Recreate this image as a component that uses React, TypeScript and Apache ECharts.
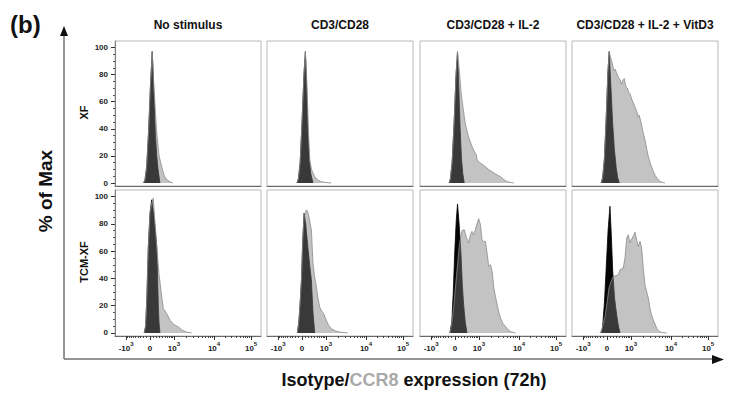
import React, { useEffect, useRef } from 'react';
import * as echarts from 'echarts';

const FONT = "'Liberation Sans', Arial, Helvetica, sans-serif";

const COLUMNS = ['No stimulus', 'CD3/CD28', 'CD3/CD28 + IL-2', 'CD3/CD28 + IL-2 + VitD3'];
const ROWS = ['XF', 'TCM-XF'];
const Y_TICKS = [0, 20, 40, 60, 80, 100];
const Y_MINOR = [5, 10, 15, 25, 30, 35, 45, 50, 55, 65, 70, 75, 85, 90, 95];
const X_TICK_VALUES = [-1000, 0, 1000, 10000, 100000];
const X_TICK_LABELS = ['-10|3', '0', '10|3', '10|4', '10|5'];
const X_MINOR_VALUES = [
  -900, -800, -700, -600, -500, -400, -300, -200, -100,
  100, 200, 300, 400, 500, 600, 700, 800, 900,
  2000, 3000, 4000, 5000, 6000, 7000, 8000, 9000,
  20000, 30000, 40000, 50000, 60000, 70000, 80000, 90000,
];

// Histograms in display (transformed) units 0..100, y = % of Max
// Row XF
const NS_XF_ISO = [[19.5, 0], [20.5, 2], [21.7, 12], [23, 38], [24.3, 72], [25.5, 97], [26.5, 70], [27.6, 37], [28.6, 20], [29.5, 10], [30.8, 0]];
const NS_XF_CCR8 = [[19.5, 0], [20.5, 2], [21.7, 12], [23, 38], [24.3, 72], [25.5, 97], [26.6, 72], [28.6, 37], [30.2, 20], [32, 12], [33.5, 6], [35, 3], [37.5, 1], [39.7, 0]];
const CD_XF_ISO = [[20.5, 0], [21.5, 3], [22.7, 15], [24, 45], [25.3, 80], [26.3, 97], [27.2, 68], [28.1, 35], [29, 17], [30, 7], [31.5, 0]];
const CD_XF_CCR8 = [[20.5, 0], [21.5, 3], [22.7, 15], [24, 45], [25.3, 80], [26.3, 97], [27.4, 72], [28.4, 38], [29.3, 17], [30.5, 10], [32.7, 4.6], [35, 2], [37.2, 1], [40, 0.4], [44, 0]];
const IL2_XF_ISO = [[20, 0], [20.8, 3], [22, 15], [23.4, 45], [24.7, 80], [25.7, 96.8], [26.6, 70], [27.5, 40], [28.4, 18], [29.3, 7], [30.3, 0]];
const IL2_XF_CCR8 = [[20, 0], [20.8, 3], [22, 15], [23.4, 45], [24.7, 80], [25.7, 96.8], [27.1, 80.8], [28.2, 66], [29.4, 56], [31, 44], [32.5, 37], [34, 31.7], [36, 26], [37.9, 21.9], [38.6, 21], [39.1, 17], [41, 15], [44.8, 12], [47, 10], [49.4, 8.3], [52, 6.5], [55.2, 4.6], [57.5, 2.5], [59.8, 1], [62, 0.4], [64.3, 0]];
const VD_XF_ISO = [[20, 0], [21, 4], [22.2, 18], [23.5, 50], [24.6, 82], [25.5, 97], [26.6, 72], [27.8, 45], [29, 25], [30.3, 11], [31.3, 4], [32.4, 0]];
const VD_XF_CCR8 = [[20, 0], [21, 4], [22.2, 18], [23.5, 50], [24.6, 82], [25.5, 97], [26.3, 93], [27.2, 90], [28, 86], [28.8, 83], [29.6, 84], [30.6, 81], [31.8, 78], [32.9, 76], [34, 73], [35, 76], [35.8, 77], [36.5, 73], [37, 71], [38, 70], [38.8, 67], [39.7, 66], [40.9, 62], [42, 59], [43.2, 56], [44.3, 53], [45.4, 49], [46, 50], [47, 46], [48, 41], [48.8, 37], [50, 31.7], [51.2, 25], [52.3, 19.4], [53.8, 14], [55.3, 9.6], [57, 5.5], [59.1, 2.2], [61, 0.8], [63.7, 0]];
// Row TCM-XF
const NS_TCM_ISO = [[20, 0], [21, 5], [21.8, 25], [22.8, 63], [24, 88], [25.1, 97.6], [26.2, 90], [27.4, 78], [28.6, 63], [29.2, 40], [29.7, 19], [30.2, 7], [30.8, 0]];
const NS_TCM_CCR8 = [[20, 0], [21, 5], [21.8, 25], [22.8, 63], [24, 88], [25.3, 96], [26.2, 98.8], [26.9, 88], [28.6, 63], [30.1, 43.7], [32, 26.5], [33.1, 18], [35.4, 14.3], [37.7, 9.3], [40, 6.5], [43.4, 4.4], [46, 2], [49.1, 0.7], [52.5, 0]];
const CD_TCM_ISO = [[20.8, 0], [21.8, 8], [22.7, 22], [23.6, 38.8], [24.5, 68], [25.4, 87.8], [26.5, 80], [27.8, 65], [29.2, 50], [30.4, 38.8], [31.5, 15], [32.7, 0]];
const CD_TCM_CCR8 = [[20.8, 0], [21.8, 8], [22.7, 22], [23.6, 38.8], [24.5, 68], [25.4, 87], [26.3, 88], [27, 90.2], [27.8, 89], [28.8, 85], [29.6, 80], [30.4, 75.5], [31, 62], [31.5, 51], [32.5, 42], [33.8, 33.8], [35, 25], [36.1, 19], [37.5, 16], [38.8, 14.3], [40.6, 9.3], [42, 6], [44, 3.2], [47, 1.5], [49.7, 0.7], [55.3, 0]];
const IL2_TCM_ISO = [[20.5, 0], [21.8, 8.4], [22.8, 30], [23.7, 57], [24.8, 82], [25.7, 94.6], [26.8, 80], [28.1, 57], [29, 35], [29.9, 20.6], [31, 8], [32.2, 0]];
const IL2_TCM_CCR8 = [[20.5, 0], [21.5, 5], [23, 18], [25, 42], [27, 65], [28.8, 75], [30.3, 75.7], [31.8, 70], [33.3, 66], [34.5, 72], [35.6, 74.5], [36.8, 72], [37.9, 75.7], [39, 80], [40.2, 83.8], [41.4, 79.4], [42.5, 68.4], [43.7, 67], [44.8, 67.2], [46, 58], [47.1, 48.8], [48.3, 50], [49.4, 45], [50.6, 32.9], [51.8, 26], [52.9, 20.6], [54, 15], [55.2, 10.8], [56.8, 7], [58.6, 4.7], [60.3, 2.5], [62.1, 1], [65.5, 0]];
const VD_TCM_ISO = [[20.3, 0], [21, 5], [22.2, 22], [23.3, 45], [24.7, 75], [26, 92.9], [27, 70], [27.9, 45], [29.2, 25], [30.6, 13.2], [31.8, 5], [32.9, 0]];
const VD_TCM_CCR8 = [[19.2, 0], [20.5, 3], [22.6, 12], [24, 22], [25.3, 33], [26.8, 38], [28.3, 41.5], [30, 42], [31.7, 42.6], [32.9, 46.3], [34, 47], [35.1, 47.6], [36.3, 55], [37.5, 69.6], [38.6, 72], [39.7, 66], [40.9, 69], [42, 71], [43.2, 73.8], [44.3, 68], [45.4, 63.5], [46.6, 67.2], [47.7, 62], [48.8, 47.6], [50, 35.3], [51.2, 30], [52.3, 25.5], [53.4, 18.2], [54.5, 13], [55.7, 9.6], [58, 3.5], [60, 1], [61.4, 0.4], [64.8, 0]];

const PANELS = [
  [NS_XF_ISO, NS_XF_CCR8], [CD_XF_ISO, CD_XF_CCR8], [IL2_XF_ISO, IL2_XF_CCR8], [VD_XF_ISO, VD_XF_CCR8],
  [NS_TCM_ISO, NS_TCM_CCR8], [CD_TCM_ISO, CD_TCM_CCR8], [IL2_TCM_ISO, IL2_TCM_CCR8], [VD_TCM_ISO, VD_TCM_CCR8],
];

// biexponential-like display transform used for axis ticks
function disp(v: number): number {
  const a = Math.abs(v);
  let d: number;
  if (a <= 1000) d = (16.4 * Math.asinh(a / 478)) / Math.asinh(1000 / 478);
  else if (a <= 10000) d = 16.4 + Math.log10(a / 1000) * 27.4;
  else d = 43.8 + Math.log10(a / 10000) * 25.4;
  return 24 + Math.sign(v) * d;
}

const COL_LEFT = [115, 267, 420, 572];
const ROW_TOP = [41, 190];
const ROW_H = [145, 146];
const PANEL_W = 146;
const Y_MIN = -2.2;
const Y_MAX = 104.8;

export default function App() {
  const ref = useRef<HTMLDivElement>(null);
  useEffect(() => {
    if (!ref.current) return;
    const chart = echarts.init(ref.current, undefined, { renderer: 'svg' });
    const majorPos = X_TICK_VALUES.map(disp);
    const minorPos = X_MINOR_VALUES.map(disp).filter((p) => p > 0 && p < 100);
    const labelFor = (val: number) => {
      let best = 0;
      for (let i = 0; i < majorPos.length; i++) {
        if (Math.abs(majorPos[i] - val) < Math.abs(majorPos[best] - val)) best = i;
      }
      const parts = X_TICK_LABELS[best].split('|');
      return parts.length > 1 ? `{n|${parts[0]}}{s|${parts[1]}}` : `{n|${parts[0]}}`;
    };

    const grids: any[] = [];
    const xAxes: any[] = [];
    const yAxes: any[] = [];
    const series: any[] = [];

    for (let r = 0; r < 2; r++) {
      for (let c = 0; c < 4; c++) {
        const gi = grids.length;
        grids.push({
          left: COL_LEFT[c], top: ROW_TOP[r], width: PANEL_W, height: ROW_H[r],
          show: true, borderColor: '#b8b8b8', borderWidth: 1, backgroundColor: '#fff',
        });
        const xi = xAxes.length;
        xAxes.push({
          type: 'value', gridIndex: gi, min: 0, max: 100, position: 'bottom',
          axisLine: { show: true, onZero: false, lineStyle: { color: '#6a6a6a', width: 1 } },
          axisTick: { show: r === 1, customValues: majorPos, length: 4, lineStyle: { color: '#333' } },
          axisLabel: {
            show: r === 1, customValues: majorPos, margin: 5, formatter: labelFor, color: '#222',
            rich: {
              n: { fontSize: 8, fontWeight: 'bold', fontFamily: FONT, color: '#222', lineHeight: 11, verticalAlign: 'bottom' },
              s: { fontSize: 6, fontWeight: 'bold', fontFamily: FONT, color: '#222', lineHeight: 6, verticalAlign: 'top' },
            },
          },
          splitLine: { show: false },
        });
        if (r === 1) {
          xAxes.push({
            type: 'value', gridIndex: gi, min: 0, max: 100, position: 'bottom',
            axisLine: { show: false, onZero: false },
            axisTick: { show: true, customValues: minorPos, length: 2, lineStyle: { color: '#444' } },
            axisLabel: { show: false },
            splitLine: { show: false },
          });
        }
        const yi = yAxes.length;
        yAxes.push({
          type: 'value', gridIndex: gi, min: Y_MIN, max: Y_MAX, position: 'left',
          axisLine: { show: c === 0, onZero: false, lineStyle: { color: '#808080', width: 1 } },
          axisTick: { show: c === 0, customValues: Y_TICKS, length: 4, lineStyle: { color: '#333' } },
          axisLabel: {
            show: c === 0, customValues: Y_TICKS, margin: 7,
            fontSize: 8, fontWeight: 'bold', fontFamily: FONT, color: '#222',
          },
          splitLine: { show: false },
        });
        if (c === 0) {
          yAxes.push({
            type: 'value', gridIndex: gi, min: Y_MIN, max: Y_MAX, position: 'left',
            axisLine: { show: false, onZero: false },
            axisTick: { show: true, customValues: Y_MINOR, length: 2, lineStyle: { color: '#555' } },
            axisLabel: { show: false },
            splitLine: { show: false },
          });
        }
        const [iso, ccr8] = PANELS[r * 4 + c];
        series.push({
          type: 'line', xAxisIndex: xi, yAxisIndex: yi, data: iso,
          showSymbol: false, symbol: 'none', silent: true, z: 2,
          lineStyle: { color: '#000', width: 0.8 },
          areaStyle: { color: '#050505', opacity: 1 },
        });
        series.push({
          type: 'line', xAxisIndex: xi, yAxisIndex: yi, data: ccr8,
          showSymbol: false, symbol: 'none', silent: true, z: 3,
          lineStyle: { color: '#8a8a8a', width: 0.8 },
          areaStyle: { color: '#7b7b7b', opacity: 0.45 },
        });
      }
    }

    const graphic: any[] = [
      { type: 'text', x: 10, y: 12, style: { text: '(b)', fontSize: 24, fontWeight: 'bold', fontFamily: FONT, fill: '#111' } },
      {
        type: 'text', x: 45, y: 191, rotation: Math.PI / 2,
        style: { text: '% of Max', fontSize: 19, fontWeight: 'bold', fontFamily: FONT, fill: '#111', align: 'center', textAlign: 'center', verticalAlign: 'middle', textVerticalAlign: 'middle' },
      },
      { type: 'line', shape: { x1: 64, y1: 34, x2: 64, y2: 359 }, style: { stroke: '#707070', lineWidth: 1.5 } },
      { type: 'line', shape: { x1: 64, y1: 359, x2: 714, y2: 359 }, style: { stroke: '#707070', lineWidth: 1.5 } },
      { type: 'polygon', shape: { points: [[64, 26], [60, 36], [68, 36]] }, style: { fill: '#111' } },
      { type: 'polygon', shape: { points: [[724, 359.5], [712, 355], [712, 364]] }, style: { fill: '#111' } },
      {
        type: 'text', x: 414, y: 380,
        style: {
          text: '{a|Isotype/}{b|CCR8}{a| expression (72h)}',
          align: 'center', textAlign: 'center', verticalAlign: 'middle', textVerticalAlign: 'middle',
          rich: {
            a: { fontSize: 18, fontWeight: 'bold', fontFamily: FONT, fill: '#111', color: '#111' },
            b: { fontSize: 18, fontWeight: 'bold', fontFamily: FONT, fill: '#a9a9a9', color: '#a9a9a9' },
          },
        },
      },
    ];
    COLUMNS.forEach((t, c) => {
      graphic.push({
        type: 'text', x: COL_LEFT[c] + PANEL_W / 2, y: 25,
        style: { text: t, fontSize: 12, fontWeight: 'bold', fontFamily: FONT, fill: '#111', align: 'center', textAlign: 'center', verticalAlign: 'middle', textVerticalAlign: 'middle' },
      });
    });
    ROWS.forEach((t, r) => {
      graphic.push({
        type: 'text', x: 84, y: ROW_TOP[r] + ROW_H[r] / 2 - 1, rotation: Math.PI / 2,
        style: { text: t, fontSize: 11, fontWeight: 'bold', fontFamily: FONT, fill: '#111', align: 'center', textAlign: 'center', verticalAlign: 'middle', textVerticalAlign: 'middle' },
      });
    });

    chart.setOption({
      animation: false,
      backgroundColor: '#fff',
      grid: grids,
      xAxis: xAxes,
      yAxis: yAxes,
      series,
      graphic,
    });
    return () => chart.dispose();
  }, []);
  return <div ref={ref} style={{ position: 'absolute', left: 0, top: 0, width: 729, height: 399, background: '#fff' }} />;
}
